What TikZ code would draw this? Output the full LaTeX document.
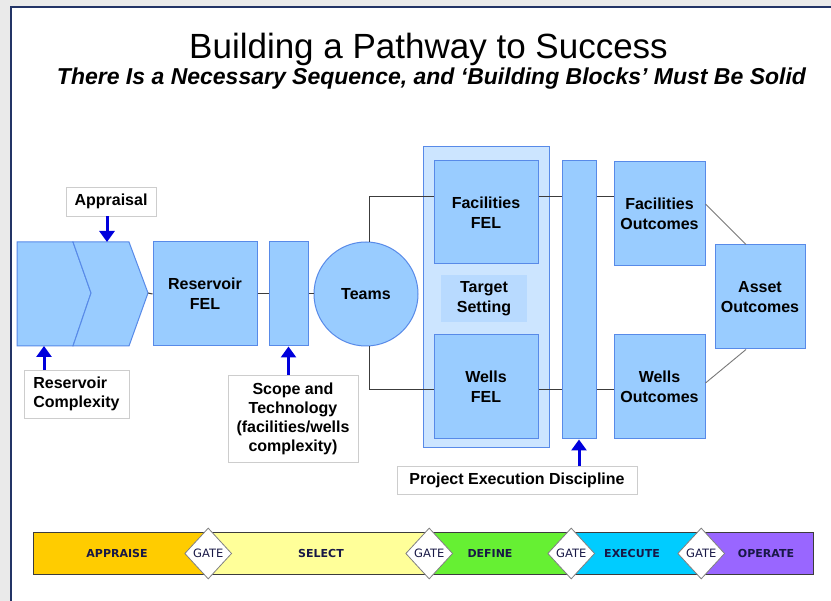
\documentclass[tikz,border=0pt]{standalone}
\usepackage{fontspec}
\setmainfont{Liberation Sans}
\newfontfamily\phasefont{DejaVu Sans}
\usetikzlibrary{arrows.meta,shapes.geometric,calc}

\definecolor{pagegray}{RGB}{234,234,234}
\definecolor{framenavy}{RGB}{35,52,102}
\definecolor{blkfill}{RGB}{153,204,255}
\definecolor{blkline}{RGB}{88,138,232}
\definecolor{panelfill}{RGB}{204,229,255}
\definecolor{targetfill}{RGB}{184,218,255}
\definecolor{arrowblue}{RGB}{0,0,220}
\definecolor{lblgray}{RGB}{205,205,205}
\definecolor{linkgray}{RGB}{60,60,60}
\definecolor{softgray}{RGB}{120,120,120}
\definecolor{phtext}{RGB}{24,24,70}
\definecolor{phappraise}{RGB}{255,204,0}
\definecolor{phselect}{RGB}{255,255,153}
\definecolor{phdefine}{RGB}{102,240,51}
\definecolor{phexecute}{RGB}{0,204,255}
\definecolor{phoperate}{RGB}{153,102,255}

\begin{document}
\begin{tikzpicture}[x=1pt,y=-1pt,
  blkshape/.style={draw=blkline, fill=blkfill, line width=1pt},
  blk/.style={blkshape, inner sep=0pt, align=center,
    font=\bfseries\fontsize{16}{20}\selectfont},
  lbl/.style={draw=lblgray, fill=white, line width=0.8pt, inner sep=0pt,
    align=center, font=\bfseries\fontsize{16}{19}\selectfont},
  link/.style={draw=linkgray, line width=1pt},
  softlink/.style={draw=softgray, line width=0.9pt},
  uparr/.style={draw=arrowblue, line width=3pt,
    -{Triangle[width=15pt,length=11pt]}},
  phase/.style={draw=none, inner sep=0pt, minimum height=41pt},
  phlabel/.style={text=phtext, font=\phasefont\bfseries\fontsize{11}{12}\selectfont},
  gate/.style={diamond, draw=gray, fill=white, line width=0.8pt, inner sep=0pt,
    minimum width=47pt, minimum height=51pt, text=phtext,
    font=\phasefont\fontsize{11.5}{12}\selectfont},
]
\useasboundingbox (0,0) rectangle (831,601);

% page and frame
\fill[pagegray] (0,0) rectangle (831,601);
\fill[white] (11,7) rectangle (831,601);
\draw[framenavy, line width=2pt] (11,601) -- (11,7) -- (831,7);

% headings
\node[anchor=base, inner sep=0pt, font=\fontsize{35}{40}\selectfont] (title)
  at (428.5,59) {Building a Pathway to Success};
\node[anchor=base, inner sep=0pt, font=\bfseries\itshape\fontsize{23}{26}\selectfont] (subtitle)
  at (431.5,85) {There Is a Necessary Sequence, and ‘Building Blocks’ Must Be Solid};

% appraisal chevrons
\draw[blkshape] (17,242) -- (73,242) -- (91,293) -- (73,346) -- (17,346) -- cycle;
\draw[blkshape] (73,242) -- (129,242) -- (148,293) -- (129,346) -- (73,346) -- (91,293) -- cycle;
\coordinate (chevtip) at (148,293);
\coordinate (chevtop) at (107,242);
\coordinate (chevbot) at (44,346);

% main blocks
\node[blk, minimum width=104pt, minimum height=104pt] (resfel) at (205,294) {Reservoir\\FEL};
\node[blk, minimum width=39pt, minimum height=104pt] (scoperect) at (288.5,294) {};
\node[blk, circle, minimum size=104pt] (teams) at (366,294) {Teams};
\node[blkshape, fill=panelfill, inner sep=0pt, minimum width=126pt, minimum height=301pt] (panel) at (486,297.5) {};
\node[blk, minimum width=104pt, minimum height=103pt] (facfel) at (486,212.5) {Facilities\\FEL};
\node[blk, draw=none, fill=targetfill, minimum width=86pt, minimum height=47pt] (target) at (484,298.5) {Target\\Setting};
\node[blk, minimum width=104pt, minimum height=104pt] (wellsfel) at (486,387) {Wells\\FEL};
\node[blk, minimum width=34pt, minimum height=278pt] (execbar) at (579,300) {};
\node[blk, minimum width=91pt, minimum height=104pt] (facout) at (659.5,214) {Facilities\\Outcomes};
\node[blk, minimum width=91pt, minimum height=104pt] (wellsout) at (659.5,387) {Wells\\Outcomes};
\node[blk, minimum width=90pt, minimum height=104pt] (asset) at (760,297) {Asset\\Outcomes};

% input labels
\node[lbl, minimum width=90pt, minimum height=29pt] (appraisal) at (111,201.5) {Appraisal};
\node[lbl, align=left, minimum width=105pt, minimum height=48pt] (rescomp) at (76.5,394) {Reservoir\\Complexity};
\node[lbl, minimum width=130pt, minimum height=87pt] (scopelbl) at (293,418.5)
  {Scope and\\Technology\\(facilities/wells\\complexity)};
\node[lbl, minimum width=240pt, minimum height=28pt] (ped) at (517,480) {Project Execution Discipline};

% connectors
\coordinate (ytop) at (0,197);
\coordinate (ybot) at (0,390);
\draw[link] (chevtip) -- (resfel.west);
\draw[link] (resfel.east) -- (scoperect.west);
\draw[link] (scoperect.east) -- (teams.west);
\draw[link] (teams.86) |- (facfel.west |- ytop);
\draw[link] (teams.-86) |- (wellsfel.west |- ybot);
\draw[link] (facfel.east |- ytop) -- (execbar.west |- ytop);
\draw[link] (wellsfel.east |- ybot) -- (execbar.west |- ybot);
\draw[link] (execbar.east |- ytop) -- (facout.west |- ytop);
\draw[link] (execbar.east |- ybot) -- (wellsout.west |- ybot);
\draw[softlink] ([yshift=10pt]facout.east) -- ([xshift=-14pt]asset.north);
\draw[softlink] ([yshift=4pt]wellsout.east) -- ([xshift=-14pt]asset.south);

% input arrows
\draw[uparr] (appraisal.south -| chevtop) -- (chevtop);
\draw[uparr] (rescomp.north -| chevbot) -- (chevbot);
\draw[uparr] (scoperect.south |- scopelbl.north) -- (scoperect.south);
\draw[uparr] (execbar.south |- ped.north) -- (execbar.south);

% stage-gate bar
\node[phase, fill=phappraise, minimum width=174pt] (pappraise) at (121,553.5) {};
\node[phase, fill=phselect, minimum width=221pt] (pselect) at (318.5,553.5) {};
\node[phase, fill=phdefine, minimum width=142pt] (pdefine) at (500,553.5) {};
\node[phase, fill=phexecute, minimum width=130pt] (pexecute) at (636,553.5) {};
\node[phase, fill=phoperate, minimum width=112pt] (poperate) at (757,553.5) {};
\draw[draw=linkgray, line width=1pt] (pappraise.north west) rectangle (poperate.south east);
\node[phlabel] (lappraise) at (117,553.5) {APPRAISE};
\node[phlabel] (lselect) at (321,553.5) {SELECT};
\node[phlabel] (ldefine) at (490,553.5) {DEFINE};
\node[phlabel] (lexecute) at (632,553.5) {EXECUTE};
\node[phlabel] (loperate) at (766,553.5) {OPERATE};
\node[gate] (gate1) at (pappraise.east) {GATE};
\node[gate] (gate2) at (pselect.east) {GATE};
\node[gate] (gate3) at (pdefine.east) {GATE};
\node[gate] (gate4) at (pexecute.east) {GATE};
\end{tikzpicture}
\end{document}
